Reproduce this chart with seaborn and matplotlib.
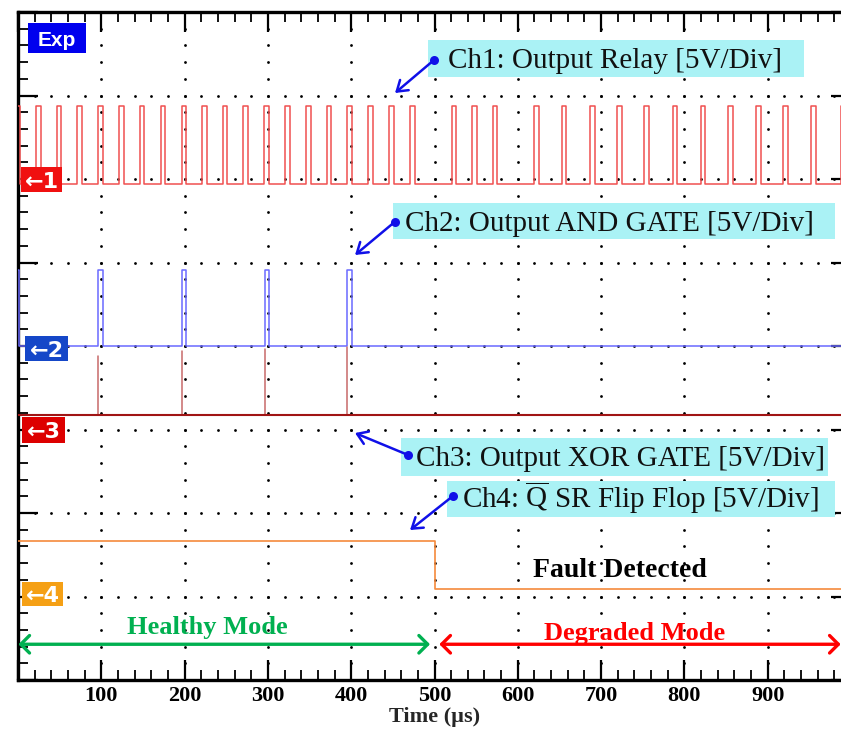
import numpy as np
import pandas as pd
import seaborn as sns
import matplotlib
matplotlib.use("Agg")
import matplotlib.pyplot as plt
from matplotlib.patches import Rectangle
from matplotlib.ticker import MultipleLocator

# ---------------- data ----------------
# Ch1: output relay, rising edges of the short pulses (µs)
ch1_rise = [-3.5, 21.6, 46.5, 71.2, 96.4, 121.2, 146.1, 171.3, 196.5, 221.2,
            245.7, 270.5, 295.7, 320.9, 345.7, 370.6, 395.3, 420.5, 445.7,
            470.6, 520.6, 545.4, 569.9, 619.8, 652.7, 686.7, 719.4, 751.9,
            786.0, 819.6, 852.7, 886.0, 918.8, 952.0, 988.0]
ch1_width = 5.5
ch1_low, ch1_high = 5.94, 6.88

# Ch2: output AND gate
ch2_rise = [-3.5, 96.4, 196.5, 296.0, 395.3]
ch2_width = 5.3
ch2_low, ch2_high = 4.0, 4.91

# Ch3: output XOR gate (baseline + narrow spikes)
ch3_spike_t = [96.4, 196.5, 296.0, 395.3]
ch3_spike_top = [3.88, 3.94, 3.96, 3.99]
ch3_base = 3.17

# Ch4: Q-bar of SR flip flop
ch4_fall = 500.4
ch4_high, ch4_low = 1.67, 1.085

x_ticks = [100, 200, 300, 400, 500, 600, 700, 800, 900]
t_start, t_end = -10, 1000

# ---------------- style ----------------
sns.set_theme(style="white")
plt.rcParams["font.family"] = ["Liberation Serif", "DejaVu Serif"]
plt.rcParams["mathtext.fontset"] = "custom"
plt.rcParams["mathtext.rm"] = "Liberation Serif"
plt.rcParams["mathtext.it"] = "Liberation Serif:italic"
plt.rcParams["mathtext.bf"] = "Liberation Serif:bold"

SANS = ["Liberation Sans", "DejaVu Sans"]
c_ch1 = "#f05050"
c_ch2 = "#6a6aff"
c_ch3 = "#a01414"
c_ch3s = "#c86a6a"
c_ch4 = "#f58a3c"
c_blue = "#1010e8"
c_cyan = "#aaf2f5"
c_green = "#00b050"
c_red = "#ff0000"

fig = plt.figure(figsize=(8.41, 7.31), dpi=100)
# axes from x=18px to 851px (right spine beyond image), y from 12px to 680px
ax = fig.add_axes([18 / 841, (731 - 680) / 731, (851 - 18) / 841, (680 - 12) / 731])
ax.set_xlim(0, 1000)
ax.set_ylim(0, 8)


def square_wave(rises, width, lo, hi):
    xs, ys = [t_start], [lo]
    for r in rises:
        xs += [r, r, r + width, r + width]
        ys += [lo, hi, hi, lo]
    xs.append(t_end)
    ys.append(lo)
    return pd.DataFrame({"t": xs, "v": ys})


# ---------------- dotted graticule ----------------
gx_cols = np.array([100 * k for k in range(1, 10)])
gy_vals = np.round(np.arange(0.2, 8.0, 0.2), 2)
cx, cy = np.meshgrid(gx_cols, gy_vals)
rx, ry = np.meshgrid(np.arange(20, 1000, 20), np.arange(1, 8))
ax.plot(np.r_[cx.ravel(), rx.ravel()], np.r_[cy.ravel(), ry.ravel()], "o",
        ms=2.0, mew=0, color="black", zorder=1)

# ---------------- traces ----------------
df1 = square_wave(ch1_rise, ch1_width, ch1_low, ch1_high)
sns.lineplot(data=df1, x="t", y="v", sort=False, estimator=None, color=c_ch1,
             lw=1.1, ax=ax, zorder=3)
df2 = square_wave(ch2_rise, ch2_width, ch2_low, ch2_high)
sns.lineplot(data=df2, x="t", y="v", sort=False, estimator=None, color=c_ch2,
             lw=1.1, ax=ax, zorder=3)

spk = pd.DataFrame({
    "t": [t for t in ch3_spike_t for _ in range(2)],
    "v": [val for top in ch3_spike_top for val in (ch3_base, top)],
    "u": [i for i in range(len(ch3_spike_t)) for _ in range(2)],
})
sns.lineplot(data=spk, x="t", y="v", units="u", sort=False, estimator=None,
             color=c_ch3s, lw=1.1, ax=ax, zorder=3)
df3 = pd.DataFrame({"t": [t_start, t_end], "v": [ch3_base, ch3_base]})
sns.lineplot(data=df3, x="t", y="v", sort=False, estimator=None, color=c_ch3,
             lw=1.5, ax=ax, zorder=3)

df4 = pd.DataFrame({"t": [t_start, ch4_fall, ch4_fall, t_end],
                    "v": [ch4_high, ch4_high, ch4_low, ch4_low]})
sns.lineplot(data=df4, x="t", y="v", sort=False, estimator=None, color=c_ch4,
             lw=1.2, ax=ax, zorder=3)

# ---------------- ticks / spines ----------------
ax.xaxis.set_major_locator(MultipleLocator(100))
ax.xaxis.set_minor_locator(MultipleLocator(20))
ax.yaxis.set_major_locator(MultipleLocator(1))
ax.yaxis.set_minor_locator(MultipleLocator(0.2))
ax.set_xticks([0] + x_ticks + [1000])
ax.set_xticklabels([""] + [str(v) for v in x_ticks] + [""])
ax.set_yticklabels([])
ax.tick_params(which="both", direction="in", top=True, right=True,
               bottom=True, left=True, colors="black")
ax.tick_params(which="major", length=14.4, width=1.6, pad=4)
ax.tick_params(which="minor", length=7.2, width=1.3)
for lab in ax.get_xticklabels():
    lab.set_fontsize(16)
    lab.set_fontweight("bold")
for s in ax.spines.values():
    s.set_linewidth(2.4)
    s.set_color("black")
ax.set_xlabel("Time (µs)", fontsize=16, fontweight="bold", labelpad=1)
ax.set_ylabel("")

# ---------------- Exp and channel markers ----------------
def tag(x0, x1, y0, y1, color, text, size, family):
    ax.add_patch(Rectangle((x0, y0), x1 - x0, y1 - y0, facecolor=color,
                           edgecolor="none", zorder=6, clip_on=False))
    ax.text((x0 + x1) / 2, (y0 + y1) / 2, text, color="white", fontsize=size,
            fontweight="bold", family=family, ha="center", va="center_baseline",
            zorder=7)

tag(12.0, 81.6, 7.509, 7.868, "#0000ee", "Exp", 15, SANS)
tag(3.6, 52.8, 5.844, 6.144, "#f01010", "←1", 16, ["DejaVu Sans"])
tag(8.4, 60.0, 3.82, 4.12, "#1547c8", "←2", 16, ["DejaVu Sans"])
tag(4.8, 56.4, 2.838, 3.15, "#dd0000", "←3", 16, ["DejaVu Sans"])
tag(4.8, 54.0, 0.886, 1.174, "#f5a015", "←4", 16, ["DejaVu Sans"])

# ---------------- annotations ----------------
def callout(box, text_xy, text, dot, tip):
    x0, x1, y0, y1 = box
    ax.add_patch(Rectangle((x0, y0), x1 - x0, y1 - y0, facecolor=c_cyan,
                           edgecolor="none", zorder=5))
    ax.text(text_xy[0], text_xy[1], text, fontsize=21, color="#111111",
            ha="left", va="baseline", zorder=6)
    ax.annotate("", xy=tip, xytext=dot,
                arrowprops=dict(arrowstyle="->,head_length=0.45,head_width=0.3",
                                color=c_blue, lw=1.8, shrinkA=0, shrinkB=0,
                                mutation_scale=16), zorder=6)
    ax.plot([dot[0]], [dot[1]], "o", ms=6.5, color=c_blue, mew=0, zorder=7)

callout((492.2, 943.6, 7.222, 7.665), (516.2, 7.33),
        "Ch1: Output Relay [5V/Div]", (499.4, 7.425), (452.6, 7.03))
callout((450.2, 980.8, 5.281, 5.713), (464.6, 5.383),
        "Ch2: Output AND GATE [5V/Div]", (452.6, 5.489), (404.6, 5.09))
callout((459.8, 972.4, 2.443, 2.898), (477.8, 2.563),
        "Ch3: Output XOR GATE [5V/Div]", (468.2, 2.695), (404.6, 2.958))
callout((515.0, 980.8, 1.952, 2.383), (533.0, 2.06),
        "Ch4: $\\overline{\\mathrm{Q}}$ SR Flip Flop [5V/Div]", (522.2, 2.204),
        (470.6, 1.796))

ax.text(722.1, 1.237, "Fault Detected", fontsize=20, fontweight="bold",
        color="black", ha="center", va="baseline", zorder=6)

# ---------------- mode arrows ----------------
ax.annotate("", xy=(0.5, 0.428), xytext=(494.6, 0.428),
            arrowprops=dict(arrowstyle="<->,head_length=0.45,head_width=0.45",
                            color=c_green, lw=2.4, shrinkA=0, shrinkB=0,
                            mutation_scale=14), zorder=6)
ax.annotate("", xy=(505.8, 0.428), xytext=(987.6, 0.428),
            arrowprops=dict(arrowstyle="<->,head_length=0.45,head_width=0.45",
                            color=c_red, lw=2.4, shrinkA=0, shrinkB=0,
                            mutation_scale=14), zorder=6)
ax.text(227.5, 0.551, "Healthy Mode", fontsize=19, fontweight="bold",
        color=c_green, ha="center", va="baseline", zorder=6)
ax.text(740.7, 0.479, "Degraded Mode", fontsize=19, fontweight="bold",
        color=c_red, ha="center", va="baseline", zorder=6)

fig.savefig("out.png", dpi=100)
